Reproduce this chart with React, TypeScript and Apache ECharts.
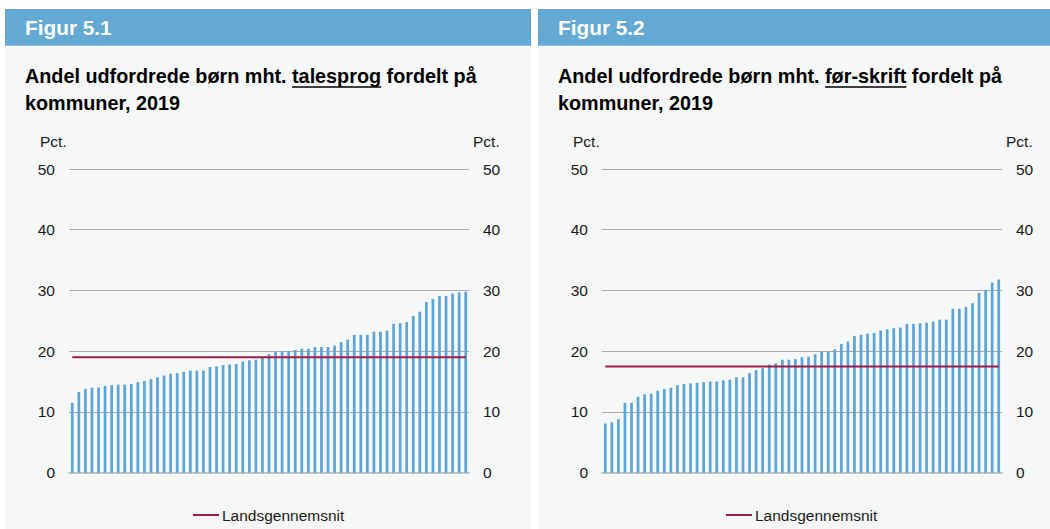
import React, { useEffect, useRef } from "react";
import * as echarts from "echarts";

// ---------- data ----------
const kommuner: string[] = Array.from({ length: 61 }, (_, i) => `Kommune ${i + 1}`);

const talesprog: number[] = [
  11.5, 13.3, 13.8, 14.0, 14.0, 14.3, 14.4, 14.5, 14.5, 14.6,
  14.9, 15.1, 15.4, 15.7, 16.0, 16.3, 16.4, 16.6, 16.8, 16.8,
  16.8, 17.4, 17.5, 17.7, 17.8, 17.9, 18.3, 18.5, 18.6, 18.9,
  19.5, 19.9, 20.0, 20.0, 20.2, 20.4, 20.4, 20.7, 20.7, 20.7,
  20.9, 21.5, 21.9, 22.7, 22.7, 22.7, 23.2, 23.2, 23.4, 24.5,
  24.6, 24.8, 25.8, 26.5, 28.1, 28.6, 29.1, 29.1, 29.5, 29.7, 29.8,
];

const foerSkrift: number[] = [
  8.1, 8.3, 8.8, 11.5, 11.5, 12.5, 12.9, 13.0, 13.5, 13.8,
  14.0, 14.4, 14.6, 14.7, 14.8, 14.9, 15.0, 15.0, 15.2, 15.3,
  15.7, 15.7, 16.4, 16.9, 17.2, 17.8, 18.0, 18.6, 18.6, 18.7,
  19.0, 19.1, 19.5, 19.9, 19.9, 20.3, 21.2, 21.6, 22.5, 22.7,
  22.9, 23.0, 23.4, 23.6, 23.8, 23.9, 24.5, 24.5, 24.6, 24.7,
  24.9, 25.2, 25.2, 27.0, 27.0, 27.3, 27.9, 29.6, 30.1, 31.3, 31.8,
];

const landsgnsTalesprog = 19.0;
const landsgnsFoerSkrift = 17.5;

const yMin = 0;
const yMax = 50;
const yInterval = 10;

const figurLabels = ["Figur 5.1", "Figur 5.2"];
const titlePrefix = "Andel udfordrede børn mht. ";
const titleWords = ["talesprog", "før-skrift"];
const titleSuffix = " fordelt på";
const titleLine2 = "kommuner, 2019";
const unitLabel = "Pct.";
const legendLabel = "Landsgennemsnit";

// ---------- style ----------
const FONT = "'Liberation Sans', Arial, Helvetica, sans-serif";
const HEADER_BLUE = "#63a9d4";
const PANEL_BG = "#f6f7f7";
const BAR_BLUE = "#5aa4d6";
const AVG_RED = "#9d1f4a";
const TEXT = "#1a1a1a";

function measure(text: string, font: string): number {
  const c = document.createElement("canvas");
  const ctx = c.getContext("2d");
  if (!ctx) return text.length * 10;
  ctx.font = font;
  return ctx.measureText(text).width;
}

export default function App() {
  const ref = useRef<HTMLDivElement>(null);

  useEffect(() => {
    if (!ref.current) return;
    const chart = echarts.init(ref.current, null, { renderer: "svg" });

    const panels = [
      { x: 5, w: 526, gridLeft: 69, values: talesprog, avg: landsgnsTalesprog },
      { x: 538, w: 526, gridLeft: 602, values: foerSkrift, avg: landsgnsFoerSkrift },
    ];
    const gridWidth = 400;
    const gridTop = 169;
    const gridHeight = 303.7;

    const titleFontSize = 19.8;
    const titleFont = `bold ${titleFontSize}px 'Liberation Sans', Arial, sans-serif`;

    const graphic: any[] = [];
    panels.forEach((p, i) => {
      graphic.push({
        type: "rect",
        z: -10,
        shape: { x: p.x, y: 9, width: p.w, height: 529 - 9 },
        style: { fill: PANEL_BG },
      });
      graphic.push({
        type: "rect",
        z: -9,
        shape: { x: p.x, y: 9, width: p.w, height: 36.7 },
        style: { fill: HEADER_BLUE },
      });
      graphic.push({
        type: "text",
        x: p.x + 20,
        y: 27.5,
        style: {
          text: figurLabels[i],
          fill: "#ffffff",
          font: `bold 20.8px ${FONT}`,
          verticalAlign: "middle",
          align: "left",
        },
      });
      const line1 = titlePrefix + titleWords[i] + titleSuffix;
      graphic.push({
        type: "text",
        x: p.x + 20,
        y: 76,
        style: {
          text: line1,
          fill: "#000000",
          font: `bold ${titleFontSize}px ${FONT}`,
          verticalAlign: "middle",
          align: "left",
        },
      });
      graphic.push({
        type: "text",
        x: p.x + 20,
        y: 102.5,
        style: {
          text: titleLine2,
          fill: "#000000",
          font: `bold ${titleFontSize}px ${FONT}`,
          verticalAlign: "middle",
          align: "left",
        },
      });
      const ux0 = p.x + 20 + measure(titlePrefix, titleFont);
      const uw = measure(titleWords[i], titleFont);
      graphic.push({
        type: "line",
        shape: { x1: ux0, y1: 87, x2: ux0 + uw, y2: 87 },
        style: { stroke: "#000000", lineWidth: 1.6 },
      });
      graphic.push({
        type: "text",
        x: p.gridLeft - 29,
        y: 141,
        style: {
          text: unitLabel,
          fill: TEXT,
          font: `15.5px ${FONT}`,
          verticalAlign: "middle",
          align: "left",
        },
      });
      graphic.push({
        type: "text",
        x: p.gridLeft + gridWidth + 4,
        y: 141,
        style: {
          text: unitLabel,
          fill: TEXT,
          font: `15.5px ${FONT}`,
          verticalAlign: "middle",
          align: "left",
        },
      });
    });

    const grid = panels.map((p) => ({
      left: p.gridLeft,
      top: gridTop,
      width: gridWidth,
      height: gridHeight,
      containLabel: false,
    }));

    const xAxis = panels.map((_, i) => ({
      type: "category",
      gridIndex: i,
      data: kommuner,
      boundaryGap: true,
      axisLine: { show: true, lineStyle: { color: "#c4c4c4", width: 2 } },
      axisTick: { show: false },
      axisLabel: { show: false },
      splitLine: { show: false },
    }));

    const axisLabel = {
      color: TEXT,
      fontFamily: FONT,
      fontSize: 15.5,
      margin: 14,
    };

    const yAxis: any[] = [];
    panels.forEach((_, i) => {
      yAxis.push({
        type: "value",
        gridIndex: i,
        position: "left",
        min: yMin,
        max: yMax,
        interval: yInterval,
        axisLine: { show: false },
        axisTick: { show: false },
        axisLabel,
        splitLine: { show: true, lineStyle: { color: "#a9a9a9", width: 1 } },
      });
      yAxis.push({
        type: "value",
        gridIndex: i,
        position: "right",
        min: yMin,
        max: yMax,
        interval: yInterval,
        axisLine: { show: false },
        axisTick: { show: false },
        axisLabel,
        splitLine: { show: false },
      });
    });

    const series: any[] = [];
    panels.forEach((p, i) => {
      series.push({
        type: "bar",
        name: "Kommuner",
        xAxisIndex: i,
        yAxisIndex: i * 2,
        data: p.values,
        barWidth: 2.7,
        itemStyle: { color: BAR_BLUE },
        z: 2,
      });
      series.push({
        type: "line",
        name: legendLabel,
        xAxisIndex: i,
        yAxisIndex: i * 2,
        data: kommuner.map(() => p.avg),
        showSymbol: false,
        symbol: "none",
        lineStyle: { color: AVG_RED, width: 2 },
        itemStyle: { color: AVG_RED },
        z: 3,
      });
    });

    const legend = panels.map((p) => ({
      data: [legendLabel],
      left: p.gridLeft + 124,
      top: 506,
      padding: 0,
      icon: "rect",
      itemWidth: 26,
      itemHeight: 2,
      selectedMode: false,
      textStyle: {
        color: TEXT,
        fontFamily: FONT,
        fontSize: 15.5,
        lineHeight: 18,
        padding: [0, 0, 0, -2],
      },
    }));

    chart.setOption({
      animation: false,
      backgroundColor: "#ffffff",
      textStyle: { fontFamily: FONT },
      graphic,
      grid,
      xAxis,
      yAxis,
      series,
      legend,
    });

    return () => chart.dispose();
  }, []);

  return (
    <div
      ref={ref}
      style={{ position: "fixed", left: 0, top: 0, width: 1050, height: 529 }}
    />
  );
}
